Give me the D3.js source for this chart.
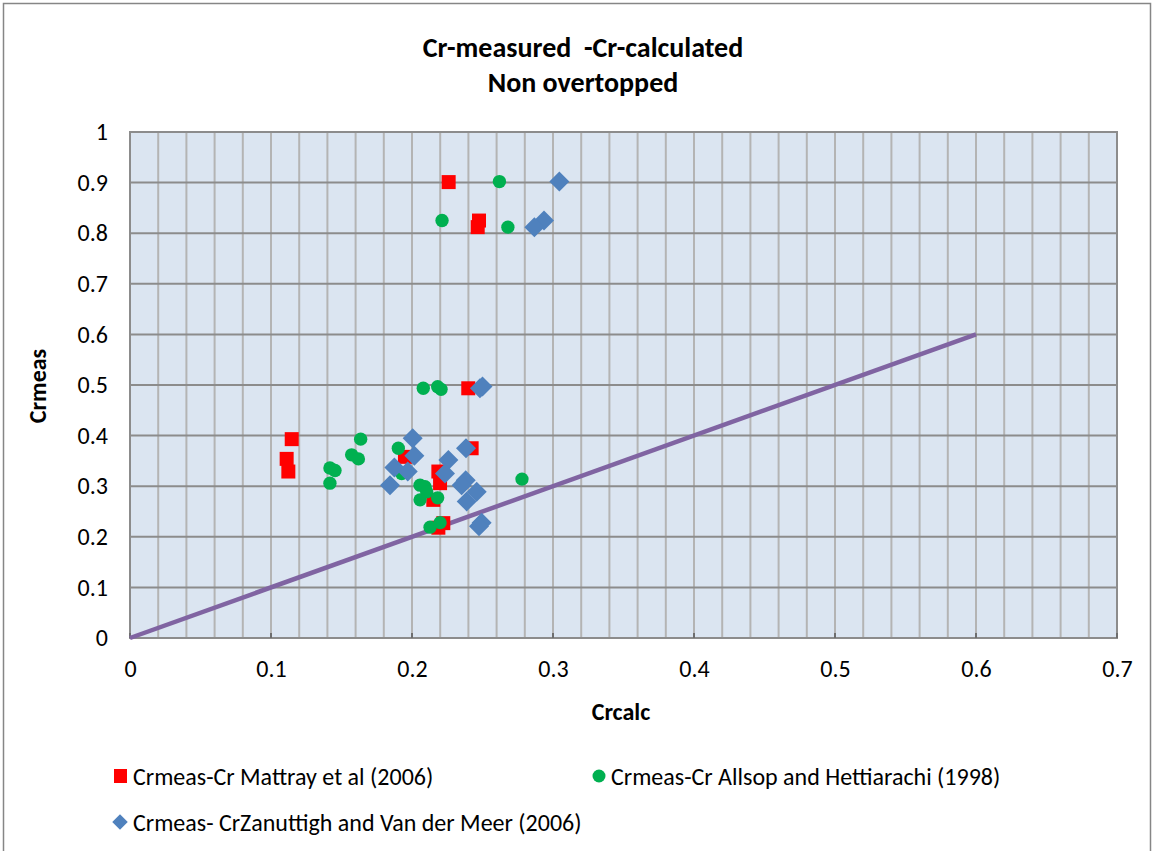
<!DOCTYPE html>
<html>
<head>
<meta charset="utf-8">
<script src="https://cdn.jsdelivr.net/npm/d3@7"></script>
<style>
  html, body { margin: 0; padding: 0; background: #fff; }
  svg { display: block; }
  text { font-family: Carlito, Calibri, Lato, "Open Sans", sans-serif; fill: #000; white-space: pre; }
</style>
</head>
<body>
<svg id="chart" width="1155" height="851"></svg>
<script>
// Mattray et al (2006)
const mattrayX = [0.226, 0.2475, 0.2466, 0.1147, 0.1111, 0.1123, 0.2399, 0.2423, 0.195, 0.2187, 0.2199, 0.2151, 0.2222, 0.2187];
const mattrayY = [0.901, 0.825, 0.812, 0.393, 0.354, 0.329, 0.4935, 0.375, 0.358, 0.329, 0.306, 0.273, 0.227, 0.218];

// Allsop and Hettiarachi (1998)
const allsopX = [0.262, 0.2213, 0.268, 0.208, 0.2182, 0.2206, 0.1636, 0.1572, 0.162, 0.1418, 0.1454, 0.1418, 0.1903, 0.1927, 0.2057, 0.2092, 0.2104, 0.2057, 0.2182, 0.278, 0.2128, 0.2199];
const allsopY = [0.902, 0.825, 0.812, 0.4935, 0.4967, 0.4915, 0.393, 0.362, 0.354, 0.336, 0.331, 0.306, 0.375, 0.325, 0.302, 0.299, 0.289, 0.273, 0.277, 0.314, 0.219, 0.228];

// Zanuttigh and Van der Meer (2006)
const zanuttighX = [0.3045, 0.2936, 0.2868, 0.2482, 0.25, 0.2005, 0.2017, 0.1875, 0.197, 0.1844, 0.2258, 0.2234, 0.2383, 0.2381, 0.2352, 0.2459, 0.2388, 0.2494, 0.2475];
const zanuttighY = [0.902, 0.825, 0.812, 0.4935, 0.497, 0.395, 0.36, 0.337, 0.329, 0.302, 0.352, 0.325, 0.375, 0.312, 0.302, 0.289, 0.27, 0.228, 0.221];

// Line of perfect agreement
const equalityX = [0, 0.6];
const equalityY = [0, 0.6];

const xTicks = [0, 0.1, 0.2, 0.3, 0.4, 0.5, 0.6, 0.7];
const yTicks = [0, 0.1, 0.2, 0.3, 0.4, 0.5, 0.6, 0.7, 0.8, 0.9, 1];
const xMinor = d3.range(0, 0.7001, 0.02);

const titleLines = ["Cr-measured  -Cr-calculated", "Non overtopped"];
const xTitle = "Crcalc";
const yTitle = "Crmeas";
const seriesNames = [
  "Crmeas-Cr Mattray et al (2006)",
  "Crmeas-Cr Allsop and Hettiarachi (1998)",
  "Crmeas- CrZanuttigh and Van der Meer (2006)"
];

const svg = d3.select("#chart");

// chart frame
svg.append("rect")
  .attr("x", 3.5).attr("y", 3.5).attr("width", 1147).attr("height", 870)
  .attr("fill", "#fff").attr("stroke", "#868686").attr("stroke-width", 1.5);

const x = d3.scaleLinear().domain([0, 0.7]).range([130, 1117]);
const y = d3.scaleLinear().domain([0, 1]).range([638, 132]);

// plot area
svg.append("rect")
  .attr("x", x(0)).attr("y", y(1))
  .attr("width", x(0.7) - x(0)).attr("height", y(0) - y(1))
  .attr("fill", "#dbe5f1");

// vertical minor grid
svg.append("g").selectAll("line").data(xMinor).join("line")
  .attr("x1", d => x(d)).attr("x2", d => x(d))
  .attr("y1", y(0)).attr("y2", y(1))
  .attr("stroke", "#b4b4b4").attr("stroke-width", 2);

// horizontal major grid
svg.append("g").selectAll("line").data(yTicks).join("line")
  .attr("x1", x(0)).attr("x2", x(0.7))
  .attr("y1", d => y(d)).attr("y2", d => y(d))
  .attr("stroke", "#8c8c8c").attr("stroke-width", 2);

// plot border
svg.append("rect")
  .attr("x", x(0)).attr("y", y(1))
  .attr("width", x(0.7) - x(0)).attr("height", y(0) - y(1))
  .attr("fill", "none").attr("stroke", "#8c8c8c").attr("stroke-width", 2);

// major tick marks on the x axis
svg.append("g").selectAll("line").data(xTicks).join("line")
  .attr("x1", d => x(d)).attr("x2", d => x(d))
  .attr("y1", y(0)).attr("y2", y(0) - 5)
  .attr("stroke", "#6e6e6e").attr("stroke-width", 2);

// axes
const xAxis = d3.axisBottom(x).tickValues(xTicks).tickFormat(d3.format("")).tickSize(0).tickPadding(22);
const gx = svg.append("g").attr("transform", `translate(0,${y(0)})`).call(xAxis);
gx.select(".domain").remove();
gx.selectAll("text").style("font-size", "24px").attr("fill", "#000");

const yAxis = d3.axisLeft(y).tickValues(yTicks).tickFormat(d3.format("")).tickSize(0).tickPadding(22);
const gy = svg.append("g").attr("transform", `translate(${x(0)},0)`).call(yAxis);
gy.select(".domain").remove();
gy.selectAll("text").style("font-size", "24px").attr("fill", "#000");

// equality line
svg.append("path")
  .datum(d3.zip(equalityX, equalityY))
  .attr("d", d3.line().x(d => x(d[0])).y(d => y(d[1])))
  .attr("fill", "none").attr("stroke", "#8064a2").attr("stroke-width", 4.5);

const sq = d3.symbol().type(d3.symbolSquare).size(196);
const circ = d3.symbol().type(d3.symbolCircle).size(140);
const diamond = d3.symbol().type(d3.symbolSquare).size(200);

svg.append("g").selectAll("path").data(d3.zip(mattrayX, mattrayY)).join("path")
  .attr("d", sq).attr("fill", "#ff0000")
  .attr("transform", d => `translate(${x(d[0])},${y(d[1])})`);

svg.append("g").selectAll("path").data(d3.zip(allsopX, allsopY)).join("path")
  .attr("d", circ).attr("fill", "#00b050")
  .attr("transform", d => `translate(${x(d[0])},${y(d[1])})`);

svg.append("g").selectAll("path").data(d3.zip(zanuttighX, zanuttighY)).join("path")
  .attr("d", diamond).attr("fill", "#4f81bd")
  .attr("transform", d => `translate(${x(d[0])},${y(d[1])}) rotate(45)`);

// titles
svg.append("g").selectAll("text").data(titleLines).join("text")
  .attr("x", 583).attr("y", (d, i) => 57 + i * 35)
  .attr("text-anchor", "middle")
  .style("font-size", "28px").style("font-weight", "bold")
  .text(d => d);

svg.append("text")
  .attr("x", 621).attr("y", 720).attr("text-anchor", "middle")
  .style("font-size", "24px").style("font-weight", "bold")
  .text(xTitle);

svg.append("text")
  .attr("transform", "translate(46,386) rotate(-90)")
  .attr("text-anchor", "middle")
  .style("font-size", "24px").style("font-weight", "bold")
  .text(yTitle);

// legend
const legend = svg.append("g");
legend.append("rect").attr("x", 114).attr("y", 769).attr("width", 13).attr("height", 14).attr("fill", "#ff0000");
legend.append("text").attr("x", 133).attr("y", 785).style("font-size", "24px").text(seriesNames[0]);
legend.append("circle").attr("cx", 599).attr("cy", 776).attr("r", 6.5).attr("fill", "#00b050");
legend.append("text").attr("x", 611).attr("y", 785).style("font-size", "24px").text(seriesNames[1]);
legend.append("path").attr("d", d3.symbol().type(d3.symbolSquare).size(120))
  .attr("transform", "translate(120,822) rotate(45)").attr("fill", "#4f81bd");
legend.append("text").attr("x", 133).attr("y", 831).style("font-size", "24px").text(seriesNames[2]);
</script>
</body>
</html>
